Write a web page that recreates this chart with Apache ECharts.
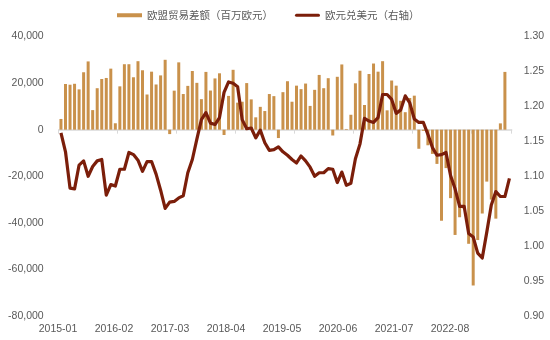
<!DOCTYPE html>
<html>
<head>
<meta charset="utf-8">
<script src="https://cdn.jsdelivr.net/npm/echarts@6/dist/echarts.min.js"></script>
<style>html,body{margin:0;padding:0;background:#fff}#c{width:550px;height:340px}</style>
</head>
<body>
<div id="c"></div>
<script>
// Monthly categories 2015-01 .. 2023-04
const startYear = 2015, monthCount = 100;
const months = [];
for (let i = 0; i < monthCount; i++) {
  const y = startYear + Math.floor(i / 12), m = (i % 12) + 1;
  months.push(y + '-' + (m < 10 ? '0' + m : m));
}
const tickLabels = ['2015-01','2016-02','2017-03','2018-04','2019-05','2020-06','2021-07','2022-08'];

const seriesNames = ['欧盟贸易差额（百万欧元）', '欧元兑美元（右轴）'];

// EU trade balance, million EUR (left axis)
const tradeBalance = [
  4600,19600,19300,19700,17300,24650,29300,8400,17800,21750,22200,26200,
  2750,18600,28100,28100,22500,29400,25500,15100,24900,19400,23300,30000,
  -1900,16750,28900,15300,18800,25200,20100,13100,24800,16800,22000,24200,
  -2300,14500,25700,11600,12000,20000,13000,5300,9800,8000,15300,14400,
  -3600,16100,20800,12000,18900,17400,19800,10200,17100,23500,17800,22100,
  -2500,22700,28000,300,6400,19900,25300,10600,23900,28400,24900,29400,
  8300,21100,18900,12400,7500,13600,14600,-8200,-500,-6700,-10400,-14700,
  -39100,-16500,-29400,-45200,-37600,-34000,-49000,-66900,-47400,-36000,-22300,-30000,
  -38200,2700,24800,null
];

// EUR/USD (right axis)
const eurUsd = [
  1.162,1.135,1.083,1.082,1.116,1.122,1.100,1.114,1.122,1.124,1.073,1.088,
  1.086,1.110,1.110,1.134,1.131,1.123,1.107,1.121,1.121,1.103,1.080,1.054,
  1.063,1.064,1.069,1.072,1.105,1.124,1.153,1.181,1.191,1.176,1.174,1.184,
  1.220,1.235,1.233,1.228,1.181,1.168,1.169,1.155,1.166,1.148,1.137,1.138,
  1.142,1.135,1.130,1.124,1.119,1.129,1.122,1.113,1.100,1.105,1.105,1.111,
  1.110,1.091,1.106,1.087,1.090,1.125,1.146,1.183,1.179,1.177,1.184,1.217,
  1.217,1.210,1.190,1.195,1.215,1.205,1.182,1.177,1.177,1.160,1.141,1.130,
  1.131,1.134,1.101,1.082,1.057,1.057,1.018,1.013,0.990,0.983,1.020,1.059,
  1.078,1.071,1.071,1.097
];

const numFont = 'Arial, "Liberation Sans", sans-serif';
const cjkFont = '"Noto Sans CJK SC", sans-serif';
const txt = '#595959';
const barColor = '#C9914B';
const lineColor = '#7B1E0A';

const chart = echarts.init(document.getElementById('c'), null, {renderer: 'canvas'});
chart.setOption({
  animation: false,
  backgroundColor: '#ffffff',
  legend: {
    top: 5, left: 112, itemGap: 22, itemWidth: 25, itemHeight: 4,
    textStyle: {color: txt, fontSize: 10.5, fontFamily: cjkFont},
    data: [
      {name: seriesNames[0], icon: 'rect'},
      {name: seriesNames[1], icon: 'path://M1.5,0 H23.5 A1.5,1.5 0 0 1 23.5,3 H1.5 A1.5,1.5 0 0 1 1.5,0 Z'}
    ]
  },
  grid: [
    {left: 58.7, right: 38.3, top: 36.5, bottom: 24},
    {left: 58, width: 392, top: 36.5, bottom: 24}
  ],
  xAxis: [
    {
      type: 'category', gridIndex: 0, data: months, boundaryGap: true,
      axisLine: {onZero: true, lineStyle: {color: '#d9d9d9', width: 1.5}},
      axisTick: {show: true, interval: 12, length: 4, lineStyle: {color: '#d9d9d9'}},
      axisLabel: {show: false}, splitLine: {show: false}
    },
    {
      type: 'category', gridIndex: 1, data: tickLabels, boundaryGap: false, position: 'bottom',
      axisLine: {show: false}, axisTick: {show: false}, splitLine: {show: false},
      axisLabel: {interval: 0, margin: 8, fontSize: 10.5, color: txt, fontFamily: numFont}
    }
  ],
  yAxis: [
    {
      type: 'value', gridIndex: 0, min: -80000, max: 40000, interval: 20000, position: 'left',
      splitLine: {show: false}, axisLine: {show: false}, axisTick: {show: false},
      axisLabel: {margin: 15, fontSize: 10.5, color: txt, fontFamily: numFont,
        formatter: v => v.toLocaleString('en-US')}
    },
    {
      type: 'value', gridIndex: 0, min: 0.9, max: 1.3, interval: 0.05, position: 'right',
      splitLine: {show: false}, axisLine: {show: false}, axisTick: {show: false},
      axisLabel: {margin: 12, fontSize: 10.5, color: txt, fontFamily: numFont,
        formatter: v => v.toFixed(2)}
    },
    {type: 'value', gridIndex: 1, show: false}
  ],
  series: [
    {
      name: seriesNames[0], type: 'bar', xAxisIndex: 0, yAxisIndex: 0,
      data: tradeBalance, barWidth: 3,
      itemStyle: {color: barColor}
    },
    {
      name: seriesNames[1], type: 'line', xAxisIndex: 0, yAxisIndex: 1,
      data: eurUsd, symbol: 'none', showSymbol: false, smooth: false, z: 5,
      lineStyle: {width: 3.2, color: lineColor, join: 'round'}, itemStyle: {color: lineColor}
    }
  ]
});
</script>
</body>
</html>
